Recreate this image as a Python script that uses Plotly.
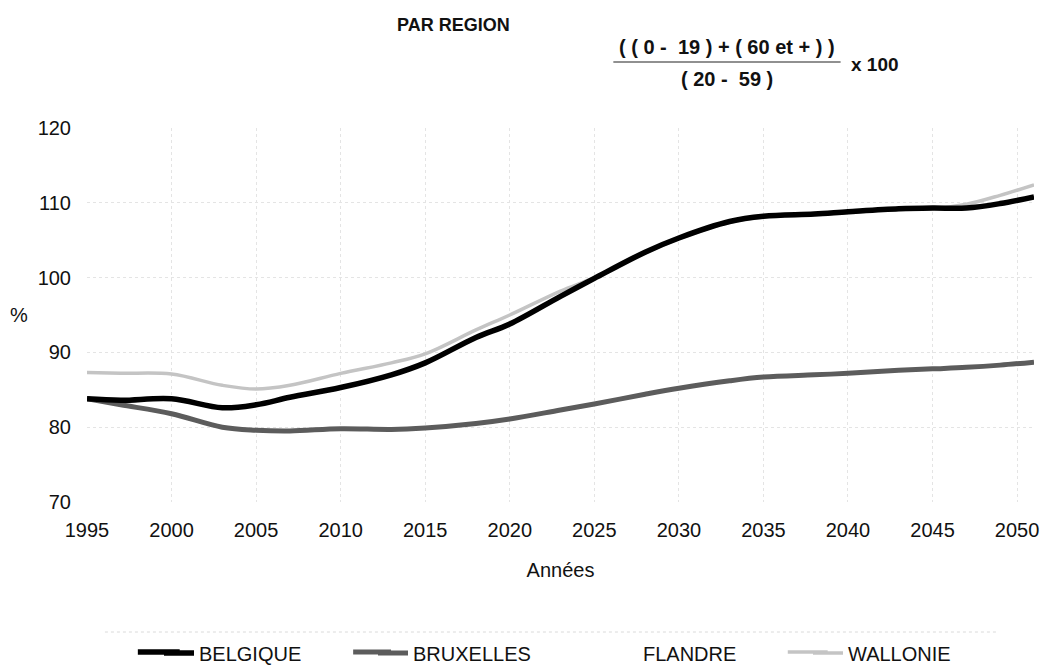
import plotly.graph_objects as go

# Dependency ratio projections by region, ((0-19) + (60+)) / (20-59) x 100
years = [1995, 1997, 2000, 2003, 2005, 2007, 2010, 2013, 2015, 2018, 2020, 2023,
         2025, 2028, 2030, 2033, 2035, 2038, 2040, 2043, 2045, 2047, 2049, 2051]

belgique = [83.8, 83.6, 83.8, 82.6, 83.0, 84.0, 85.3, 87.0, 88.6, 92.0, 93.8, 97.5,
            99.9, 103.4, 105.3, 107.5, 108.2, 108.5, 108.8, 109.2, 109.3, 109.3, 109.9, 110.8]

bruxelles = [83.8, 83.0, 81.8, 80.0, 79.6, 79.5, 79.8, 79.7, 79.9, 80.5, 81.1, 82.3,
             83.1, 84.4, 85.2, 86.2, 86.7, 87.0, 87.2, 87.6, 87.8, 88.0, 88.3, 88.7]

flandre = [81.8, 82.0, 82.3, 81.6, 82.0, 83.0, 84.6, 86.5, 88.0, 91.4, 93.5, 97.2,
           100.0, 103.6, 105.6, 107.7, 108.3, 108.5, 108.8, 108.9, 109.0, 109.1, 109.6, 110.4]

wallonie = [87.3, 87.2, 87.1, 85.6, 85.1, 85.6, 87.2, 88.6, 89.8, 93.0, 95.0, 98.2,
            100.0, 103.3, 105.2, 107.4, 108.1, 108.4, 108.7, 109.1, 109.2, 109.8, 111.0, 112.4]

x_ticks = [1995, 2000, 2005, 2010, 2015, 2020, 2025, 2030, 2035, 2040, 2045, 2050]
y_ticks = [70, 80, 90, 100, 110, 120]

FONT = "Liberation Sans, Arial, Helvetica, sans-serif"
INK = "#111111"

STYLE = {
    "BELGIQUE": dict(color="#000000", width=5.5),
    "BRUXELLES": dict(color="#5c5c5c", width=5),
    "FLANDRE": dict(color="#ffffff", width=3),
    "WALLONIE": dict(color="#c4c4c4", width=3.5),
}

fig = go.Figure()

# Flandre first so it sits beneath the other series
for name, vals, leg in [("FLANDRE", flandre, "legend3"),
                        ("WALLONIE", wallonie, "legend4"),
                        ("BRUXELLES", bruxelles, "legend2"),
                        ("BELGIQUE", belgique, "legend")]:
    fig.add_trace(go.Scatter(x=years, y=vals, name=name, mode="lines",
                             line=dict(shape="spline", smoothing=1.0, **STYLE[name]),
                             legend=leg, showlegend=True))

legend_style = dict(orientation="h", xref="container", yref="container",
                    xanchor="left", yanchor="middle", y=(667 - 653) / 667,
                    font=dict(family=FONT, size=20, color=INK),
                    bgcolor="rgba(0,0,0,0)", borderwidth=0)

fig.update_layout(
    width=1051, height=667, autosize=False,
    showlegend=True,
    margin=dict(l=87, r=14, t=128, b=165),
    paper_bgcolor="#ffffff", plot_bgcolor="#ffffff",
    font=dict(family=FONT, size=20, color=INK),
    legend=dict(x=159 / 1051, **legend_style),
    legend2=dict(x=373 / 1051, **legend_style),
    legend3=dict(x=603 / 1051, **legend_style),
    legend4=dict(x=808 / 1051, **legend_style),
    xaxis=dict(range=[1995, 2051], tickvals=x_ticks, ticktext=[str(v) for v in x_ticks],
               showgrid=True, gridcolor="#e4e4e4", griddash="dot", gridwidth=1,
               zeroline=False, showline=False, ticks="",
               tickfont=dict(family=FONT, size=20, color=INK),
               ticklabelstandoff=14,
               title=dict(text="Années", standoff=22,
                          font=dict(family=FONT, size=20, color=INK))),
    yaxis=dict(range=[70, 120], tickvals=y_ticks,
               showgrid=True, gridcolor="#e4e4e4", griddash="dot", gridwidth=1,
               zeroline=False, showline=False, ticks="",
               tickfont=dict(family=FONT, size=20, color=INK),
               ticklabelstandoff=15),
)


def px_x(px):
    return (px - 87) / 950


def px_y(py):
    return (502 - py) / 374


head_font = dict(family=FONT, size=20, color=INK)

# Header: region label and the ratio formula
fig.add_annotation(text="<b>PAR REGION</b>", xref="paper", yref="paper",
                   x=px_x(455), y=px_y(25), xanchor="center", yanchor="middle",
                   showarrow=False, font=dict(family=FONT, size=18, color=INK))
fig.add_annotation(text="<b>( ( 0 -  19 ) + ( 60 et + ) )</b>", xref="paper", yref="paper",
                   x=px_x(729), y=px_y(47), xanchor="center", yanchor="middle",
                   showarrow=False, font=head_font)
fig.add_annotation(text="<b>( 20 -  59 )</b>", xref="paper", yref="paper",
                   x=px_x(729), y=px_y(79), xanchor="center", yanchor="middle",
                   showarrow=False, font=head_font)
fig.add_annotation(text="<b>x 100</b>", xref="paper", yref="paper",
                   x=px_x(851), y=px_y(64), xanchor="left", yanchor="middle",
                   showarrow=False, font=dict(family=FONT, size=19, color=INK))
fig.add_shape(type="line", xref="paper", yref="paper",
              x0=px_x(615), x1=px_x(843), y0=px_y(62), y1=px_y(62),
              line=dict(color="#222222", width=1.2))

# Y-axis unit
fig.add_annotation(text="%", xref="paper", yref="paper",
                   x=px_x(19), y=px_y(315), xanchor="center", yanchor="middle",
                   showarrow=False, font=dict(family=FONT, size=20, color=INK))

# Longer key samples, joined onto each legend symbol
for name, x0, x1 in [("BELGIQUE", 138, 180), ("BRUXELLES", 354, 392),
                     ("WALLONIE", 790, 830)]:
    st = STYLE[name]
    fig.add_shape(type="line", xref="paper", yref="paper",
                  x0=px_x(x0), x1=px_x(x1), y0=px_y(652), y1=px_y(652),
                  line=dict(color=st["color"], width=st["width"]))

# Faint rule above the legend row
fig.add_shape(type="line", xref="paper", yref="paper",
              x0=px_x(105), x1=px_x(1000), y0=px_y(632), y1=px_y(632),
              line=dict(color="#dadada", width=1, dash="dot"))

fig.write_html("out.html")
